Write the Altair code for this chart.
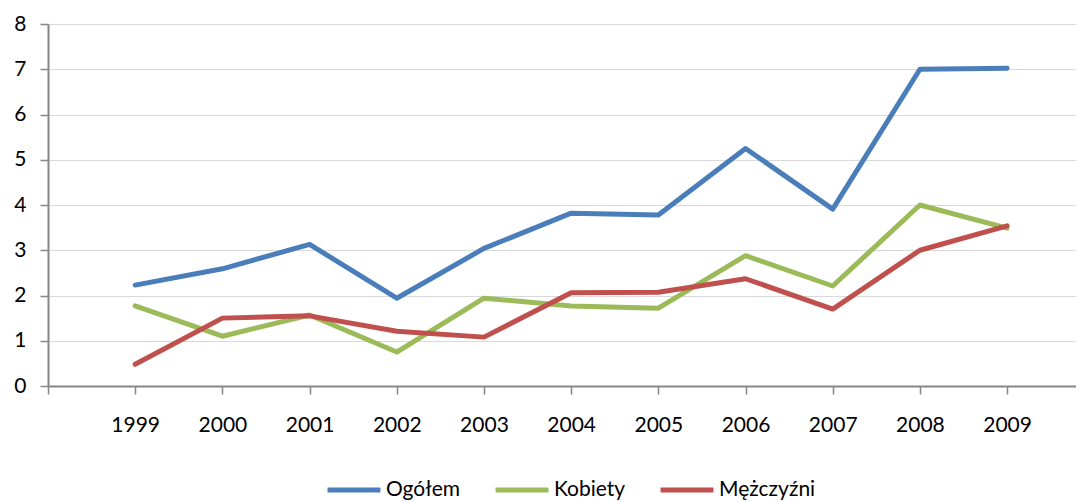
import altair as alt
import pandas as pd

years = list(range(1999, 2010))
series_names = ["Ogółem", "Kobiety", "Mężczyźni"]
ogolem = [2.23, 2.59, 3.13, 1.94, 3.04, 3.82, 3.78, 5.25, 3.91, 7.00, 7.02]
kobiety = [1.77, 1.10, 1.57, 0.75, 1.94, 1.77, 1.72, 2.88, 2.21, 4.00, 3.49]
mezczyzni = [0.48, 1.50, 1.55, 1.21, 1.08, 2.06, 2.07, 2.37, 1.70, 3.00, 3.54]
colors = ["#4A7EBB", "#9BBB59", "#C0504D"]
x_ticks = list(range(1998, 2010))
y_ticks = list(range(0, 9))

rows = []
for name, vals in zip(series_names, [ogolem, kobiety, mezczyzni]):
    for i, (yr, v) in enumerate(zip(years, vals)):
        rows.append({"rok": yr, "wartosc": v, "seria": name})
df = pd.DataFrame(rows)

FONT = "Lato"

chart = alt.Chart(df).mark_line(strokeWidth=5, strokeCap="round", strokeJoin="round").encode(
    x=alt.X("rok:Q",
            scale=alt.Scale(domain=[1998, 2009.79], nice=False, zero=False),
            axis=alt.Axis(values=x_ticks, format="d", grid=False, title=None,
                          labelExpr="datum.value == 1998 ? '' : datum.label",
                          labelFont=FONT, labelFontSize=21, labelColor="#000000",
                          labelPadding=20, tickSize=8, tickColor="#868686", tickWidth=1.5,
                          domainColor="#868686", domainWidth=2, labelFlush=False)),
    y=alt.Y("wartosc:Q",
            scale=alt.Scale(domain=[0, 8], nice=False),
            axis=alt.Axis(values=y_ticks, title=None, grid=True, gridColor="#D9D9D9", gridWidth=1.2,
                          labelFont=FONT, labelFontSize=21, labelColor="#000000",
                          labelPadding=14, tickSize=8, tickColor="#868686", tickWidth=1.5,
                          domainColor="#868686", domainWidth=2)),
    color=alt.Color("seria:N",
                    scale=alt.Scale(domain=series_names, range=colors),
                    legend=alt.Legend(orient="none", direction="horizontal", title=None,
                                      legendX=277, legendY=437,
                                      symbolType="stroke", symbolSize=2800, symbolStrokeWidth=5,
                                      labelFont=FONT, labelFontSize=21, labelColor="#000000",
                                      labelOffset=3, columnPadding=24)),
    order=alt.Order("seria:N")
).properties(
    width=1028, height=362,
    autosize=alt.AutoSizeParams(type="none"),
    padding={"left": 40, "top": 16, "right": 0, "bottom": 122}
).configure_view(stroke=None)

chart.save("out.html", embed_options={"renderer": "svg", "actions": False})
